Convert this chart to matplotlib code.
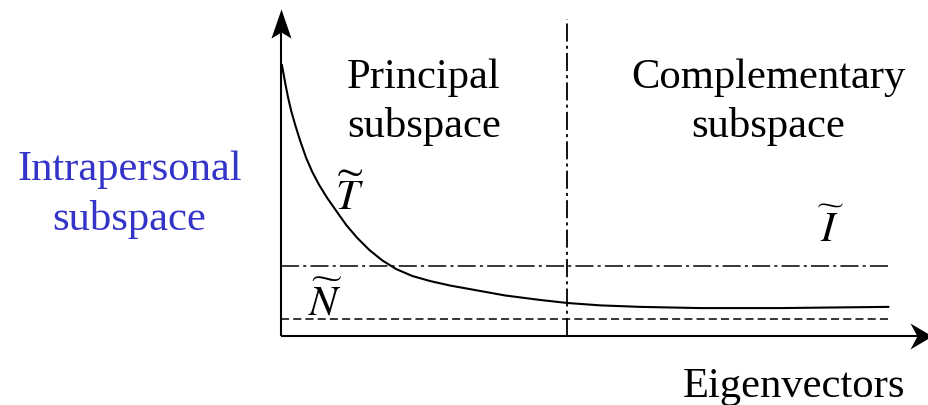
import matplotlib
matplotlib.use("Agg")
import matplotlib.pyplot as plt
from matplotlib.path import Path

plt.rcParams["font.family"] = ["Liberation Serif", "DejaVu Serif"]
plt.rcParams["mathtext.fontset"] = "stix"
plt.rcParams["lines.scale_dashes"] = False

# Eigenvalue spectrum (eigenvector index 0..100, eigenvalue in arbitrary units)
eig_index = [0.2, 0.74, 1.23, 1.73, 2.39, 3.21, 4.20, 5.19, 6.34, 7.65, 9.14,
             10.78, 12.59, 14.57, 16.71, 19.01, 21.65, 24.61, 27.90, 32.02,
             36.95, 42.72, 47.16, 52.59, 59.18, 69.05, 82.22, 100]
eig_value = [90.3, 84.3, 79.3, 75.0, 70.3, 65.0, 59.3, 54.7, 50.3, 46.0, 41.7,
             37.0, 32.7, 28.7, 25.2, 22.3, 20.0, 18.3, 16.8, 15.3,
             13.5, 12.0, 11.0, 10.2, 9.7, 9.3, 9.3, 9.7]

threshold_level = 23.3   # dash-dot level
noise_level = 5.7        # dashed level
split_index = 47.1       # principal / complementary boundary
x_end = 100
x_arrow_tip = 107.2
y_arrow_tip = 109.0
y_split_top = 105.7

principal_lines = ["Principal", "subspace"]
complementary_lines = ["Complementary", "subspace"]
axis_label_y = ["Intrapersonal", "subspace"]
axis_label_x = "Eigenvectors"
symbols = [r"$\widetilde{T}$", r"$\widetilde{\,I\,}$", r"$\widetilde{N}$"]

fig = plt.figure(figsize=(9.29, 4.06), dpi=100)
ax = fig.add_axes([0, 0, 1, 1])
ax.set_xlim(-46.2, 106.7)
ax.set_ylim(-23.0, 112.3)
ax.axis("off")

# axes lines
ax.plot([0, 0], [0, y_arrow_tip - 4], color="black", lw=1.5, solid_capstyle="butt")
ax.plot([0, x_arrow_tip - 2], [0, 0], color="black", lw=1.5, solid_capstyle="butt")

# notched arrowheads
up_head = Path([(0, 0), (10, -29), (0, -23), (-10, -29), (0, 0)],
               [Path.MOVETO, Path.LINETO, Path.LINETO, Path.LINETO, Path.CLOSEPOLY])
right_head = Path([(0, 0), (-22, 13), (-15, 0), (-22, -13), (0, 0)],
                  [Path.MOVETO, Path.LINETO, Path.LINETO, Path.LINETO, Path.CLOSEPOLY])
ax.plot([0], [y_arrow_tip], marker=up_head, markersize=41.8, color="black",
        markeredgewidth=0, clip_on=False)
ax.plot([x_arrow_tip], [0], marker=right_head, markersize=31.7, color="black",
        markeredgewidth=0, clip_on=False)

# reference levels
ax.plot([0, x_end], [threshold_level, threshold_level], color="black", lw=1.1,
        dashes=(13, 3, 2.2, 3))
ax.plot([0, x_end], [noise_level, noise_level], color="black", lw=1.1,
        dashes=(5.8, 3))
ax.plot([split_index, split_index], [0, y_split_top], color="black", lw=1.3,
        dashes=(13, 3, 2.2, 3))

# spectrum curve
ax.plot(eig_index, eig_value, color="black", lw=1.5, solid_joinstyle="round")

# region and axis labels
fs = 30.7
for text, y in zip(principal_lines, [83.0, 66.7]):
    ax.text(23.6, y, text, ha="center", va="baseline", fontsize=fs)
for text, y in zip(complementary_lines, [83.0, 66.7]):
    ax.text(80.3, y, text, ha="center", va="baseline", fontsize=fs)
for text, y in zip(axis_label_y, [52.3, 35.7]):
    ax.text(-24.9, y, text, ha="center", va="baseline", fontsize=fs,
            color="#3434c8")
ax.text(102.8, -20.0, axis_label_x, ha="right", va="baseline", fontsize=fs)

# tilde-marked symbols
symbol_pos = [(11.4, 42.3), (90.3, 31.7), (7.4, 7.3)]
for s, (lx, ly) in zip(symbols, symbol_pos):
    ax.text(lx, ly, s, ha="center", va="baseline", fontsize=fs)

fig.savefig("out.png", dpi=100)
